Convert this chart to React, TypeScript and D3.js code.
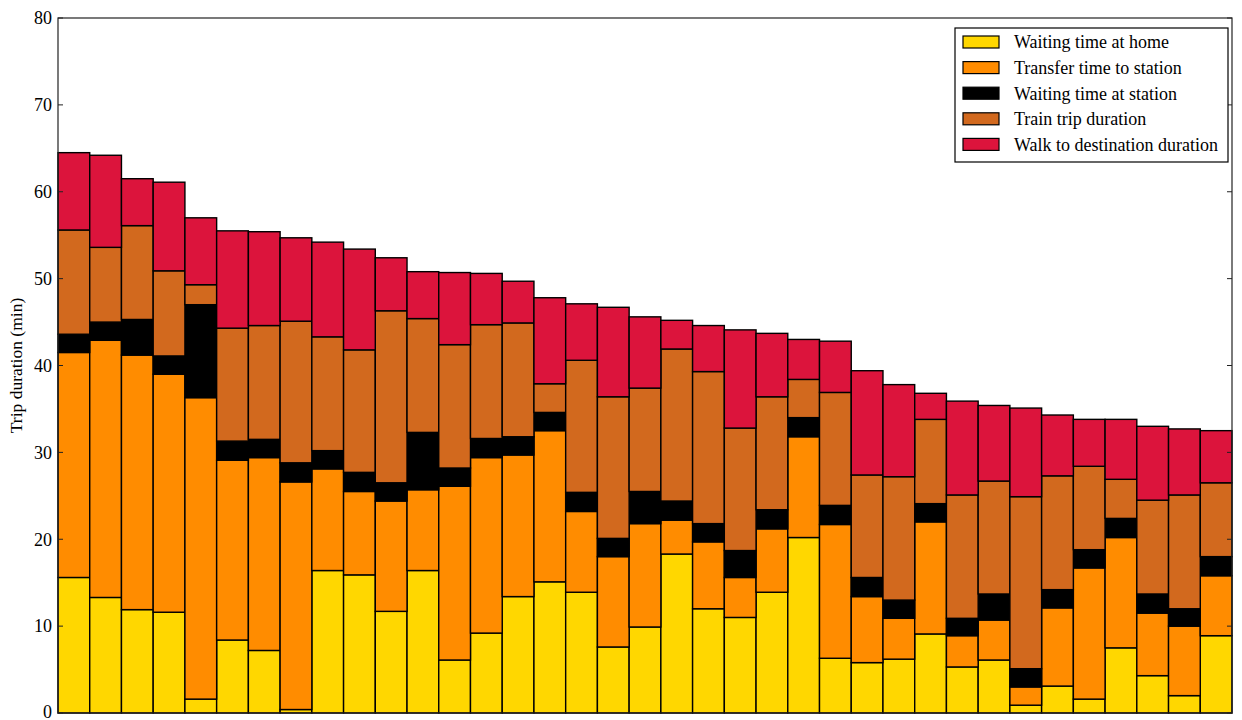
import React from "react";
import * as d3 from "d3";

const seriesNames = [
  "Waiting time at home",
  "Transfer time to station",
  "Waiting time at station",
  "Train trip duration",
  "Walk to destination duration",
];
const seriesColors = ["#FFD700", "#FF8C00", "#000000", "#D2691E", "#DC143C"];

const waitHome = [15.6, 13.3, 11.9, 11.6, 1.6, 8.4, 7.2, 0.4, 16.4, 15.9, 11.7, 16.4, 6.1, 9.2, 13.4, 15.1, 13.9, 7.6, 9.9, 18.3, 12.0, 11.0, 13.9, 20.2, 6.3, 5.8, 6.2, 9.1, 5.3, 6.1, 0.9, 3.1, 1.6, 7.5, 4.3, 2.0, 8.9];
const transfer = [25.9, 29.6, 29.3, 27.4, 34.7, 20.7, 22.2, 26.2, 11.7, 9.6, 12.7, 9.3, 20.0, 20.2, 16.3, 17.4, 9.3, 10.4, 11.9, 3.9, 7.7, 4.6, 7.3, 11.6, 15.4, 7.6, 4.7, 12.9, 3.6, 4.6, 2.1, 9.0, 15.1, 12.7, 7.2, 8.0, 6.9];
const waitStation = [2.1, 2.1, 4.1, 2.1, 10.7, 2.2, 2.1, 2.2, 2.1, 2.2, 2.1, 6.6, 2.1, 2.2, 2.1, 2.1, 2.2, 2.1, 3.7, 2.2, 2.1, 3.1, 2.2, 2.2, 2.2, 2.2, 2.1, 2.1, 2.0, 3.0, 2.1, 2.1, 2.1, 2.2, 2.2, 2.0, 2.2];
const trainTrip = [12.0, 8.6, 10.8, 9.8, 2.3, 13.0, 13.1, 16.3, 13.1, 14.1, 19.8, 13.1, 14.2, 13.1, 13.1, 3.3, 15.2, 16.3, 11.9, 17.5, 17.5, 14.1, 13.0, 4.4, 13.0, 11.8, 14.2, 9.7, 14.2, 13.0, 19.8, 13.1, 9.6, 4.5, 10.8, 13.1, 8.5];
const walkDest = [8.9, 10.6, 5.4, 10.2, 7.7, 11.2, 10.8, 9.6, 10.9, 11.6, 6.1, 5.4, 8.3, 5.9, 4.8, 9.9, 6.5, 10.3, 8.2, 3.3, 5.3, 11.3, 7.3, 4.6, 5.9, 12.0, 10.6, 3.0, 10.8, 8.7, 10.2, 7.0, 5.4, 6.9, 8.5, 7.6, 6.0];
const yTicks = [0, 10, 20, 30, 40, 50, 60, 70, 80];

const W = 1242;
const H = 720;
const margin = { left: 58, right: 10, top: 18, bottom: 7 };

export default function App() {
  const series = [waitHome, transfer, waitStation, trainTrip, walkDest];
  const n = waitHome.length;
  const rows = d3.range(n).map((i) => {
    const r: any = { i };
    series.forEach((s, k) => (r["s" + k] = s[i]));
    return r;
  });
  const stacked = d3.stack<any>().keys(series.map((_, k) => "s" + k))(rows);

  const x = d3.scaleLinear().domain([0, n]).range([margin.left, W - margin.right]);
  const y = d3.scaleLinear().domain([0, 80]).range([H - margin.bottom, margin.top]);
  const font = "'Liberation Serif', 'Times New Roman', serif";

  const lx = 955, ly = 28, lw = 273, lh = 134;

  return (
    <svg width={W} height={H} style={{ position: "absolute", left: 0, top: 0 }}>
      <rect x={0} y={0} width={W} height={H} fill="#fff" />
      {stacked.map((layer, k) => (
        <g key={k}>
          {layer.map((d, i) => (
            <rect
              key={i}
              x={x(i)}
              y={y(d[1])}
              width={x(i + 1) - x(i)}
              height={Math.max(0, y(d[0]) - y(d[1]))}
              fill={seriesColors[k]}
              stroke="#000"
              strokeWidth={1.4}
            />
          ))}
        </g>
      ))}
      <rect
        x={margin.left}
        y={margin.top}
        width={W - margin.left - margin.right}
        height={H - margin.top - margin.bottom}
        fill="none"
        stroke="#222"
        strokeWidth={1.2}
      />
      {yTicks.map((t) => (
        <g key={t}>
          <line x1={margin.left} x2={margin.left + 5} y1={y(t)} y2={y(t)} stroke="#222" strokeWidth={1} />
          <line x1={W - margin.right} x2={W - margin.right - 5} y1={y(t)} y2={y(t)} stroke="#222" strokeWidth={1} />
          <text
            x={margin.left - 6}
            y={y(t)}
            dy={t === 0 ? "0.25em" : "0.35em"}
            textAnchor="end"
            fontFamily={font}
            fontSize={18}
            fill="#000"
          >
            {t}
          </text>
        </g>
      ))}
      <text
        transform={`translate(22,${(margin.top + H - margin.bottom) / 2}) rotate(-90)`}
        textAnchor="middle"
        fontFamily={font}
        fontSize={17.5}
        fill="#000"
      >
        Trip duration (min)
      </text>
      <rect x={lx} y={ly} width={lw} height={lh} fill="#fff" stroke="#000" strokeWidth={1.2} />
      {seriesNames.map((name, k) => {
        const cy = 42 + k * 25.6;
        return (
          <g key={k}>
            <rect x={963} y={cy - 6} width={36} height={12} fill={seriesColors[k]} stroke="#000" strokeWidth={1.2} />
            <text x={1014} y={cy} dy="0.35em" fontFamily={font} fontSize={18} fill="#000">
              {name}
            </text>
          </g>
        );
      })}
    </svg>
  );
}
